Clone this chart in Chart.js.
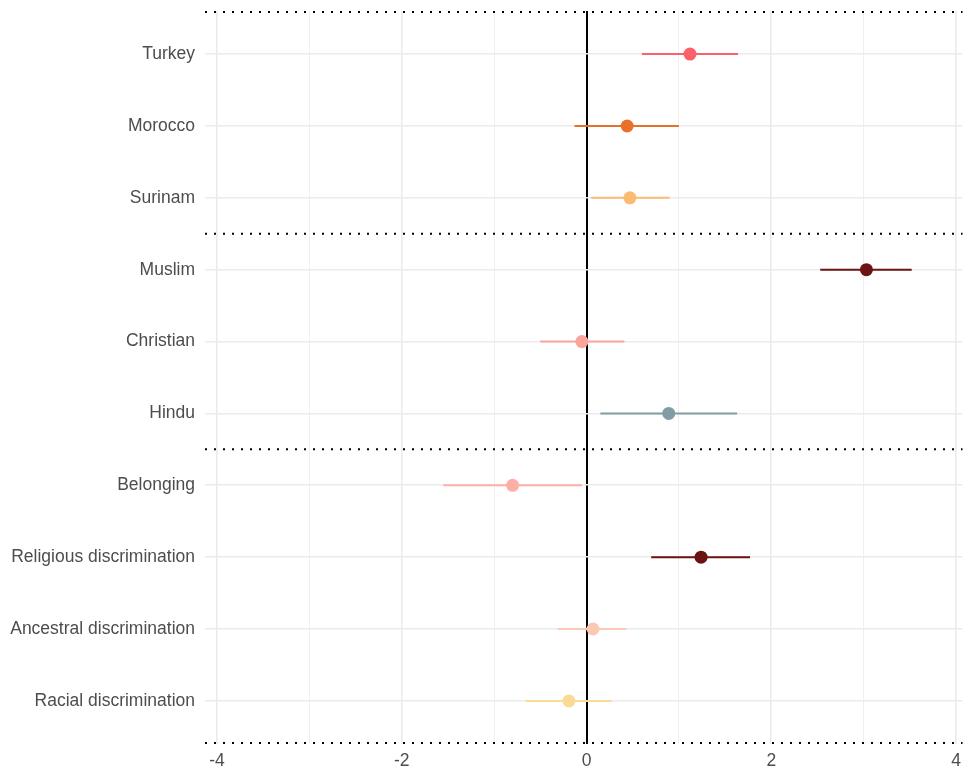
<!DOCTYPE html>
<html>
<head>
<meta charset="utf-8">
<script src="https://cdn.jsdelivr.net/npm/chart.js@4"></script>
<style>
  body { margin: 0; background: #ffffff; overflow: hidden; }
  #wrap { width: 969px; height: 772px; }
</style>
</head>
<body>
<div id="wrap"><canvas id="coef-chart"></canvas></div>
<script>
//data
const labels = ['Turkey', 'Morocco', 'Surinam', 'Muslim', 'Christian', 'Hindu',
  'Belonging', 'Religious discrimination', 'Ancestral discrimination', 'Racial discrimination'];
const estimates = [1.12, 0.44, 0.47, 3.03, -0.05, 0.89, -0.80, 1.24, 0.07, -0.19];
const lower = [0.60, -0.13, 0.05, 2.53, -0.50, 0.15, -1.55, 0.70, -0.31, -0.66];
const upper = [1.64, 1.00, 0.90, 3.52, 0.41, 1.63, -0.05, 1.77, 0.43, 0.27];
const groupSizes = [3, 3, 4];
const xTicks = [-4, -3, -2, -1, 0, 1, 2, 3, 4];
const colors = ['#FC616B', '#E8702A', '#FBBB73', '#6C1313', '#F9A59B',
  '#7F9DA3', '#FDAFA6', '#6B1212', '#FAC8B3', '#FBDB94'];

//global variables
const chartCanvas = document.getElementById('coef-chart');
let myChart;

//functions
function buildDatasets() {
  let sets = [{
    label: 'estimate',
    data: estimates.map((val, i) => ({x: val, y: i})),
    pointBackgroundColor: colors,
    pointBorderWidth: 0,
    pointRadius: 6.5,
    showLine: false
  }];
  labels.forEach((name, i) => {
    sets.push({
      label: name,
      data: [{x: lower[i], y: i}, {x: upper[i], y: i}],
      borderColor: colors[i],
      borderWidth: 2,
      pointRadius: 0,
      showLine: true
    });
  });
  return sets;
}

function groupBreaks() {
  let breaks = [];
  let total = 0;
  groupSizes.slice(0, -1).forEach(size => {
    total += size;
    breaks.push(total - 0.5);
  });
  return breaks;
}

const separatorPlugin = {
  id: 'separators',
  beforeDatasetsDraw(chart) {
    let ctx = chart.ctx;
    let area = chart.chartArea;
    let y = chart.scales.y;
    let spots = [area.top + 1].concat(groupBreaks().map(v => y.getPixelForValue(v)), [area.bottom - 1]);
    ctx.save();
    ctx.strokeStyle = '#000000';
    ctx.lineWidth = 2;
    ctx.setLineDash([2, 7]);
    spots.forEach(py => {
      ctx.beginPath();
      ctx.moveTo(area.left, py);
      ctx.lineTo(area.right, py);
      ctx.stroke();
    });
    ctx.restore();
  }
};

function createChart() {
  myChart = new Chart(chartCanvas, {
    type: 'scatter',
    data: { datasets: buildDatasets() },
    options: {
      responsive: true,
      maintainAspectRatio: false,
      animation: false,
      layout: { padding: { top: 11, right: 1, bottom: 0, left: 0 } },
      plugins: { legend: { display: false }, tooltip: { enabled: false } },
      scales: {
        x: {
          type: 'linear',
          min: -4.13,
          max: 4.07,
          afterBuildTicks: axis => { axis.ticks = xTicks.map(v => ({value: v})); },
          afterFit: axis => {
            axis.height = 28;
            axis.paddingLeft = 0;
            axis.paddingRight = 0;
          },
          border: { display: false },
          grid: {
            drawTicks: false,
            color: c => c.tick && c.tick.value === 0 ? '#000000' : '#EBEBEB',
            lineWidth: c => {
              if (!c.tick) return 1;
              if (c.tick.value === 0) return 2;
              return c.tick.value % 2 === 0 ? 1.6 : 0.8;
            }
          },
          ticks: {
            padding: 7,
            color: '#4D4D4D',
            font: { family: 'Liberation Sans', size: 17.5 },
            callback: v => v % 2 === 0 ? v : ''
          }
        },
        y: {
          type: 'linear',
          reverse: true,
          min: -0.6,
          max: 9.6,
          afterBuildTicks: axis => { axis.ticks = labels.map((l, i) => ({value: i})); },
          afterFit: axis => {
            axis.width = 205;
            axis.paddingTop = 0;
            axis.paddingBottom = 0;
          },
          border: { display: false },
          grid: { drawTicks: false, color: '#EBEBEB', lineWidth: 1.6 },
          ticks: {
            padding: 10,
            color: '#4D4D4D',
            font: { family: 'Liberation Sans', size: 17.5 },
            callback: v => labels[v]
          }
        }
      }
    },
    plugins: [separatorPlugin]
  });
}

createChart();
</script>
</body>
</html>
